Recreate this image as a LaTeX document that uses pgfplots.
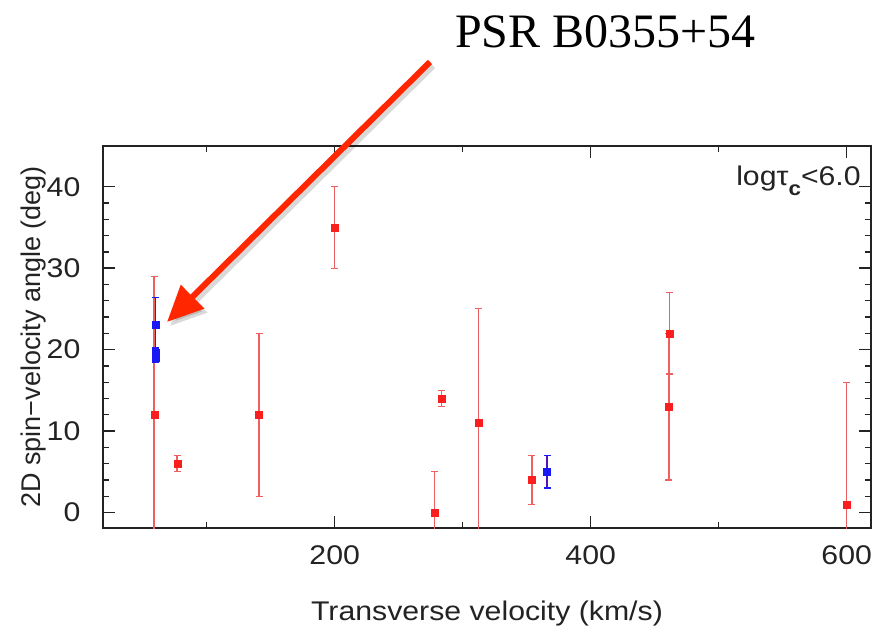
\documentclass[border=0pt]{standalone}
\usepackage{fontspec}
\setmainfont{Liberation Sans}
\newfontfamily\tnr{Liberation Serif}
\usepackage{pgfplots}
\pgfplotsset{compat=1.18}
\usetikzlibrary{arrows.meta}
\definecolor{ptred}{RGB}{250,30,30}
\definecolor{barred}{RGB}{240,95,95}
\definecolor{ptblue}{RGB}{25,25,245}
\definecolor{arrowred}{RGB}{255,38,0}
\definecolor{axgray}{RGB}{35,35,35}
\begin{document}
\begin{tikzpicture}
\path[use as bounding box] (0,0) rectangle (877pt,627pt);
\begin{axis}[
  at={(103pt,99pt)}, anchor=south west,
  width=768pt, height=382pt, scale only axis,
  xmin=19, xmax=619, ymin=-1.9, ymax=45,
  xtick={200,400,600}, minor xtick={100,300,500},
  ytick={0,10,20,30,40}, minor y tick num=4,
  tick align=inside,
  major tick length=12pt, minor tick length=6pt,
  every tick/.style={axgray, line width=1.4pt},
  axis line style={axgray, line width=1.8pt},
  /pgf/number format/assume math mode=true,
  tick label style={font=\fontsize{27}{30}\selectfont, xscale=1.12, text=axgray},
  xticklabel style={anchor=center, yshift=-27pt},
  yticklabel style={anchor=east, inner sep=0pt, xshift=-20pt},
  xlabel={Transverse velocity (km/s)},
  ylabel={2D spin−velocity angle (deg)},
  xlabel style={at={(axis description cs:0.5,-0.241)}, anchor=base, font=\fontsize{27}{30}\selectfont, xscale=1.12, text=axgray},
  ylabel style={at={(axis description cs:-0.082,0.5)}, anchor=base, font=\fontsize{27}{30}\selectfont, text=axgray},
  clip=true,
]
% red points: x, y, error
\addplot[only marks, mark=square*, mark size=3.5pt, color=ptred,
  error bars/.cd, y dir=both, y explicit,
  error bar style={barred, line width=1.6pt},
  error mark options={rotate=90, mark size=3.5pt, barred, line width=1.2pt}]
  table[x=x, y=y, y error=e] {
x y e
59 12 17
77 6 1
141 12 10
200 35 5
278 0 5
283.4 14 1
312.5 11 14
354 4 3
461 13 9
461.7 22 5
600 1 15
};
% blue points
\addplot[only marks, mark=square*, mark size=3.5pt, color=ptblue,
  error bars/.cd, y dir=both, y explicit,
  error bar style={ptblue!75!red, line width=1.6pt},
  error mark options={rotate=90, mark size=3.5pt, ptblue, line width=1.2pt}]
  table[x=x, y=y, y error=e] {
x y e
60 23 3.4
60 19.6 0.6
60 19.0 0.6
366 5 2
};
\node[anchor=north east, inner sep=0pt, font=\fontsize{27}{30}\selectfont, xscale=1.12, text=axgray]
  at (rel axis cs:1,1) [xshift=-9pt, yshift=-20pt]
  {logτ\raisebox{-0.35em}{\fontsize{20}{20}\selectfont\bfseries c}<6.0};
\end{axis}
% annotation arrow
\draw[line width=6pt, color=black, opacity=0.15, -{Triangle[length=36pt,width=32pt]}] (433pt,561pt) -- (170pt,301pt);
\draw[line width=6pt, color=arrowred, -{Triangle[length=36pt,width=32pt]}] (430pt,565pt) -- (167pt,305pt);
\node[anchor=base west, inner sep=0pt, font=\tnr\fontsize{48}{52}\selectfont] at (455pt,579pt) {PSR B0355+54};
\end{tikzpicture}
\end{document}
